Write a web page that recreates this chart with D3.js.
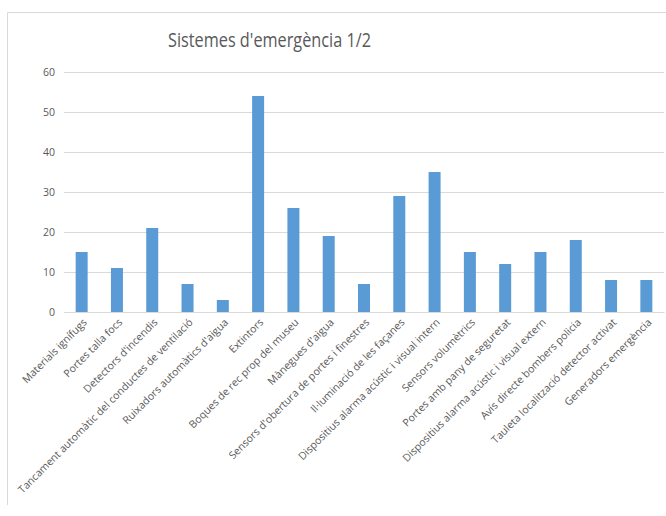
<!DOCTYPE html>
<html><head><meta charset="utf-8">
<script src="https://cdn.jsdelivr.net/npm/d3@7"></script>
<style>body{margin:0;background:#fff}svg{display:block}</style>
</head><body>
<svg id="c" width="666" height="516"></svg>
<script>
const categories = ["Materials ignífugs","Portes talla focs","Detectors d'incendis","Tancament automàtic del conductes de ventilació","Ruixadors automàtics d'aigua","Extintors","Boques de rec prop del museu","Mànegues d'aigua","Sensors d'obertura de portes i finestres","Il·luminació de les façanes","Dispositius alarma acústic i visual intern","Sensors volumètrics","Portes amb pany de seguretat","Dispositius alarma acústic i visual extern","Avís directe bombers policia","Tauleta localització detector activat","Generadors emergència"];
const values = [15,11,21,7,3,54,26,19,7,29,35,15,12,15,18,8,8];
const yTicks = [0,10,20,30,40,50,60];
const title = "Sistemes d'emergència 1/2";

const svg = d3.select("#c");
const font = "'Open Sans', sans-serif";
const grey = "#595959";
svg.append("path").attr("d","M7.5,505 V12.5 H666").attr("fill","none").attr("stroke","#d9d9d9");

const x = d3.scaleBand().domain(categories).range([64,664]).paddingInner(0.66).paddingOuter(0.33);
const y = d3.scaleLinear().domain([0,60]).range([312,72]);

const yAxis = svg.append("g").attr("transform","translate(64,0)")
  .call(d3.axisLeft(y).tickValues(yTicks).tickSize(-600).tickPadding(9));
yAxis.select(".domain").remove();
yAxis.selectAll("line").attr("stroke","#d9d9d9");
yAxis.selectAll("text").style("fill",grey).style("font-family",font).style("font-size","10.5px");

svg.append("g").selectAll("rect").data(values).join("rect")
  .attr("x",(d,i)=>x(categories[i])).attr("width",x.bandwidth())
  .attr("y",d=>y(d)).attr("height",d=>y(0)-y(d)).attr("fill","#5b9bd5");

const xAxis = svg.append("g").attr("transform","translate(0,312)")
  .call(d3.axisBottom(x).tickSize(0).tickPadding(0));
xAxis.select(".domain").attr("stroke","#d9d9d9");
xAxis.selectAll("text").style("fill",grey).style("font-family",font).style("font-size","10.5px")
  .attr("text-anchor","end").attr("dy",null).attr("y",0)
  .attr("transform","translate(6,11) rotate(-45)");

svg.append("text").attr("x",168).attr("y",47).attr("text-anchor","start")
  .attr("textLength",203).attr("lengthAdjust","spacingAndGlyphs")
  .style("fill",grey).style("font-family",font).style("font-size","20.5px").text(title);
</script>
</body></html>
